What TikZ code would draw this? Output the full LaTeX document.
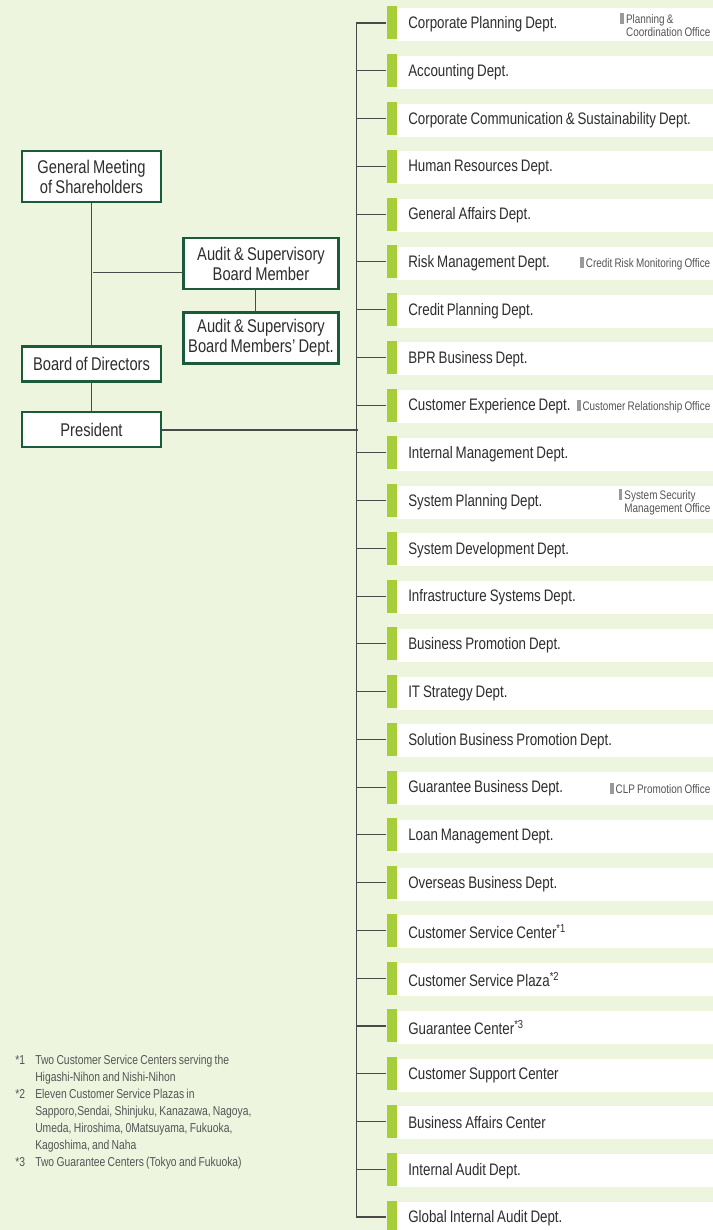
\documentclass[tikz,border=0pt]{standalone}
\usepackage{fontspec}
\setmainfont{Liberation Sans}[FakeStretch=0.8,WordSpace=0.8]
\definecolor{bggreen}{HTML}{EEF5DF}
\definecolor{bargreen}{HTML}{A6CE39}
\definecolor{boxgreen}{HTML}{1C5B3A}
\definecolor{linegray}{HTML}{4A4A4A}
\definecolor{textgray}{HTML}{2E2E2E}
\definecolor{notegray}{HTML}{555555}
\definecolor{markgray}{HTML}{9A9A9A}
\newcommand{\officemark}{{\color{markgray}\rule[-0.5pt]{2.8pt}{8pt}}\hspace{1.5pt}}
\begin{document}
\begin{tikzpicture}
    [
    x=0.75pt,y=-0.75pt,
    organ/.style={draw=boxgreen,line width=1.9pt,fill=white,inner sep=0pt,minimum width=104pt,align=center,text=textgray,font=\fontsize{13.8}{15}\selectfont},
    bar/.style={fill=bargreen,inner sep=0pt,minimum width=7.5pt,minimum height=24.75pt,anchor=east},
    dept/.style={fill=white,inner xsep=8.25pt,inner ysep=0pt,minimum height=24.75pt,text width=220.5pt,align=flush left,anchor=west,text=textgray,font=\fontsize{12.5}{14}\selectfont},
    office/.style={inner sep=0pt,anchor=east,align=left,text=notegray,font=\fontsize{9.3}{10}\selectfont},
    link/.style={draw=linegray,line width=0.8pt}
    ]
    \useasboundingbox (0,0) rectangle (713,1230);
    \fill [bggreen] (0,0) rectangle (713,1230);
    \node (gms) at (91.5,176.5) [organ,minimum height=38pt] {General Meeting\\of Shareholders};
    \node (bod) at (91.5,364) [organ,minimum height=26.6pt] {Board of Directors};
    \node (president) at (91.5,429.5) [organ,minimum height=26pt] {President};
    \node (asbm) at (261,263.5) [organ,minimum width=116.6pt,minimum height=38pt] {Audit \& Supervisory\\Board Member};
    \node (asbmdept) at (261,338) [organ,minimum width=116.6pt,minimum height=38pt] {Audit \& Supervisory\\Board Members’ Dept.};
    \foreach \name [count=\i] in {Corporate Planning Dept., Accounting Dept., Corporate Communication\,\&\,Sustainability Dept., Human Resources Dept., General Affairs Dept., Risk Management Dept., Credit Planning Dept., BPR Business Dept., Customer Experience Dept., Internal Management Dept., System Planning Dept., System Development Dept., Infrastructure Systems Dept., Business Promotion Dept., IT Strategy Dept., Solution Business Promotion Dept., Guarantee Business Dept., Loan Management Dept., Overseas Business Dept., Customer Service Center\textsuperscript{*1}, Customer Service Plaza\textsuperscript{*2}, Guarantee Center\textsuperscript{*3}, Customer Support Center, Business Affairs Center, Internal Audit Dept., Global Internal Audit Dept.}
    {
      \pgfmathsetmacro\rowy{23+(\i-1)*47.76}
      \node (bar\i) at (397,\rowy) [bar] {};
      \node (dept\i) at (397,\rowy+1.5) [dept] {\name};
    }
    \node (office1) at ([xshift=-2.25pt,yshift=-0.5pt]dept1.east) [office] {\officemark Planning \&\\\hphantom{\officemark}Coordination Office};
    \node (office6) at ([xshift=-2.25pt]dept6.east) [office] {\officemark Credit Risk Monitoring Office};
    \node (office9) at ([xshift=-2.25pt]dept9.east) [office] {\officemark Customer Relationship Office};
    \node (office11) at ([xshift=-2.25pt]dept11.east) [office] {\officemark System Security\\\hphantom{\officemark}Management Office};
    \node (office17) at ([xshift=-2.25pt]dept17.east) [office] {\officemark CLP Promotion Office};
    \draw [link] (bar1.west) -- ++(-30,0) coordinate (trunktop) |- (bar26.west);
    \foreach \i in {2,...,25}
      \draw [link] (bar\i.west) -- (bar\i.west -| trunktop);
    \coordinate (gmsjoin) at (92.7,272.7);
    \coordinate (trunkjoin) at (358,430);
    \draw [link] (gms) -- (bod);
    \draw [link] (bod) -- (president);
    \draw [link] (gmsjoin) -- (gmsjoin -| asbm.west);
    \draw [link] ([xshift=-4pt]asbm.south) -- ([xshift=-4pt]asbmdept.north);
    \draw [link] (president.east |- trunkjoin) -- (trunkjoin);
    \node (notes) at (15,1052) [anchor=north west,inner sep=0pt,text=notegray,font=\fontsize{9.7}{12.75}\selectfont]
      {\begin{tabular}{@{}p{15pt}@{}l@{}}
      {*}1 & Two Customer Service Centers serving the\\
           & Higashi-Nihon and Nishi-Nihon\\
      {*}2 & Eleven Customer Service Plazas in\\
           & Sapporo,Sendai, Shinjuku, Kanazawa, Nagoya,\\
           & Umeda, Hiroshima, 0Matsuyama, Fukuoka,\\
           & Kagoshima, and Naha\\
      {*}3 & Two Guarantee Centers (Tokyo and Fukuoka)
      \end{tabular}};
  \end{tikzpicture}
\end{document}
